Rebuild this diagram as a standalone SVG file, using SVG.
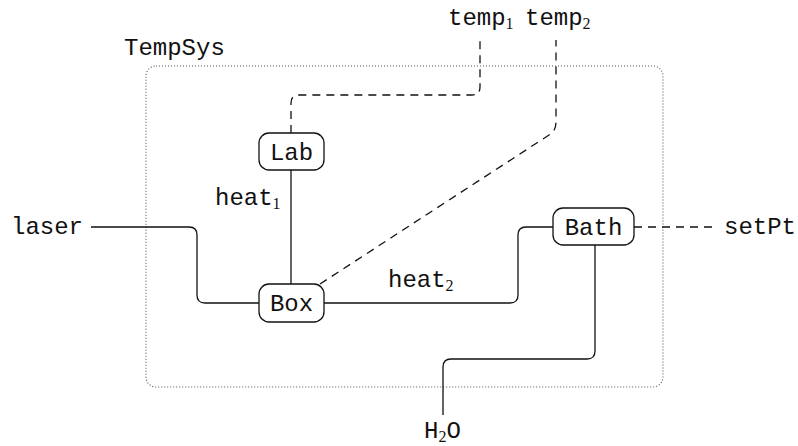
<svg xmlns="http://www.w3.org/2000/svg" width="798" height="446" viewBox="0 0 798 446">
<style>
  .t { font-family: "Liberation Mono", "DejaVu Sans Mono", monospace; font-size: 24px; fill: #111; }
  .sub { font-family: "Liberation Serif", "DejaVu Serif", serif; font-size: 16px; }
  .node { fill: #fff; stroke: #111; stroke-width: 1.3; }
  .w { fill: none; stroke: #111; stroke-width: 1.3; }
  .d { fill: none; stroke: #111; stroke-width: 1.3; stroke-dasharray: 8 6; }
  .sys { fill: none; stroke: #555; stroke-width: 1.1; stroke-dasharray: 1 2; }
</style>
<g id="system">
  <rect class="sys" x="146" y="66" width="517" height="321" rx="10"/>
  <text class="t" x="124" y="55">TempSys</text>
</g>
<g id="connectors">
  <path class="w" d="M291,170 V284"/>
  <path class="w" d="M91,227 H189 Q197,227 197,235 V295 Q197,303 205,303 H259"/>
  <path class="w" d="M324,303 H510 Q518,303 518,295 V235 Q518,227 526,227 H553"/>
  <path class="w" d="M595,245 V351 Q595,359 587,359 H451 Q443,359 443,367 V415"/>
  <path class="d" d="M291,133 V103 Q291,95 299,95 H472 Q480,95 480,87 V40"/>
  <path class="d" d="M320,284 L549,135 Q556,131 556,122 V40"/>
  <path class="d" d="M634,227 H716"/>
</g>
<g id="labels">
  <text class="t" x="215" y="205">heat<tspan class="sub" dy="4">1</tspan></text>
  <text class="t" x="388" y="287">heat<tspan class="sub" dy="4">2</tspan></text>
  <text class="t" x="448" y="25">temp<tspan class="sub" dy="4">1</tspan></text>
  <text class="t" x="525" y="25">temp<tspan class="sub" dy="4">2</tspan></text>
  <text class="t" x="11" y="234">laser</text>
  <text class="t" x="724" y="234">setPt</text>
  <text class="t" x="424" y="438">H<tspan class="sub" dy="4">2</tspan><tspan dy="-4">O</tspan></text>
</g>
<g id="Lab">
  <rect class="node" x="259" y="133" width="65" height="37" rx="10"/>
  <text class="t" x="291.5" y="160" text-anchor="middle">Lab</text>
</g>
<g id="Box">
  <rect class="node" x="259" y="284" width="65" height="38" rx="10"/>
  <text class="t" x="291.5" y="311" text-anchor="middle">Box</text>
</g>
<g id="Bath">
  <rect class="node" x="553" y="208" width="81" height="37" rx="10"/>
  <text class="t" x="593.5" y="235" text-anchor="middle">Bath</text>
</g>
</svg>
